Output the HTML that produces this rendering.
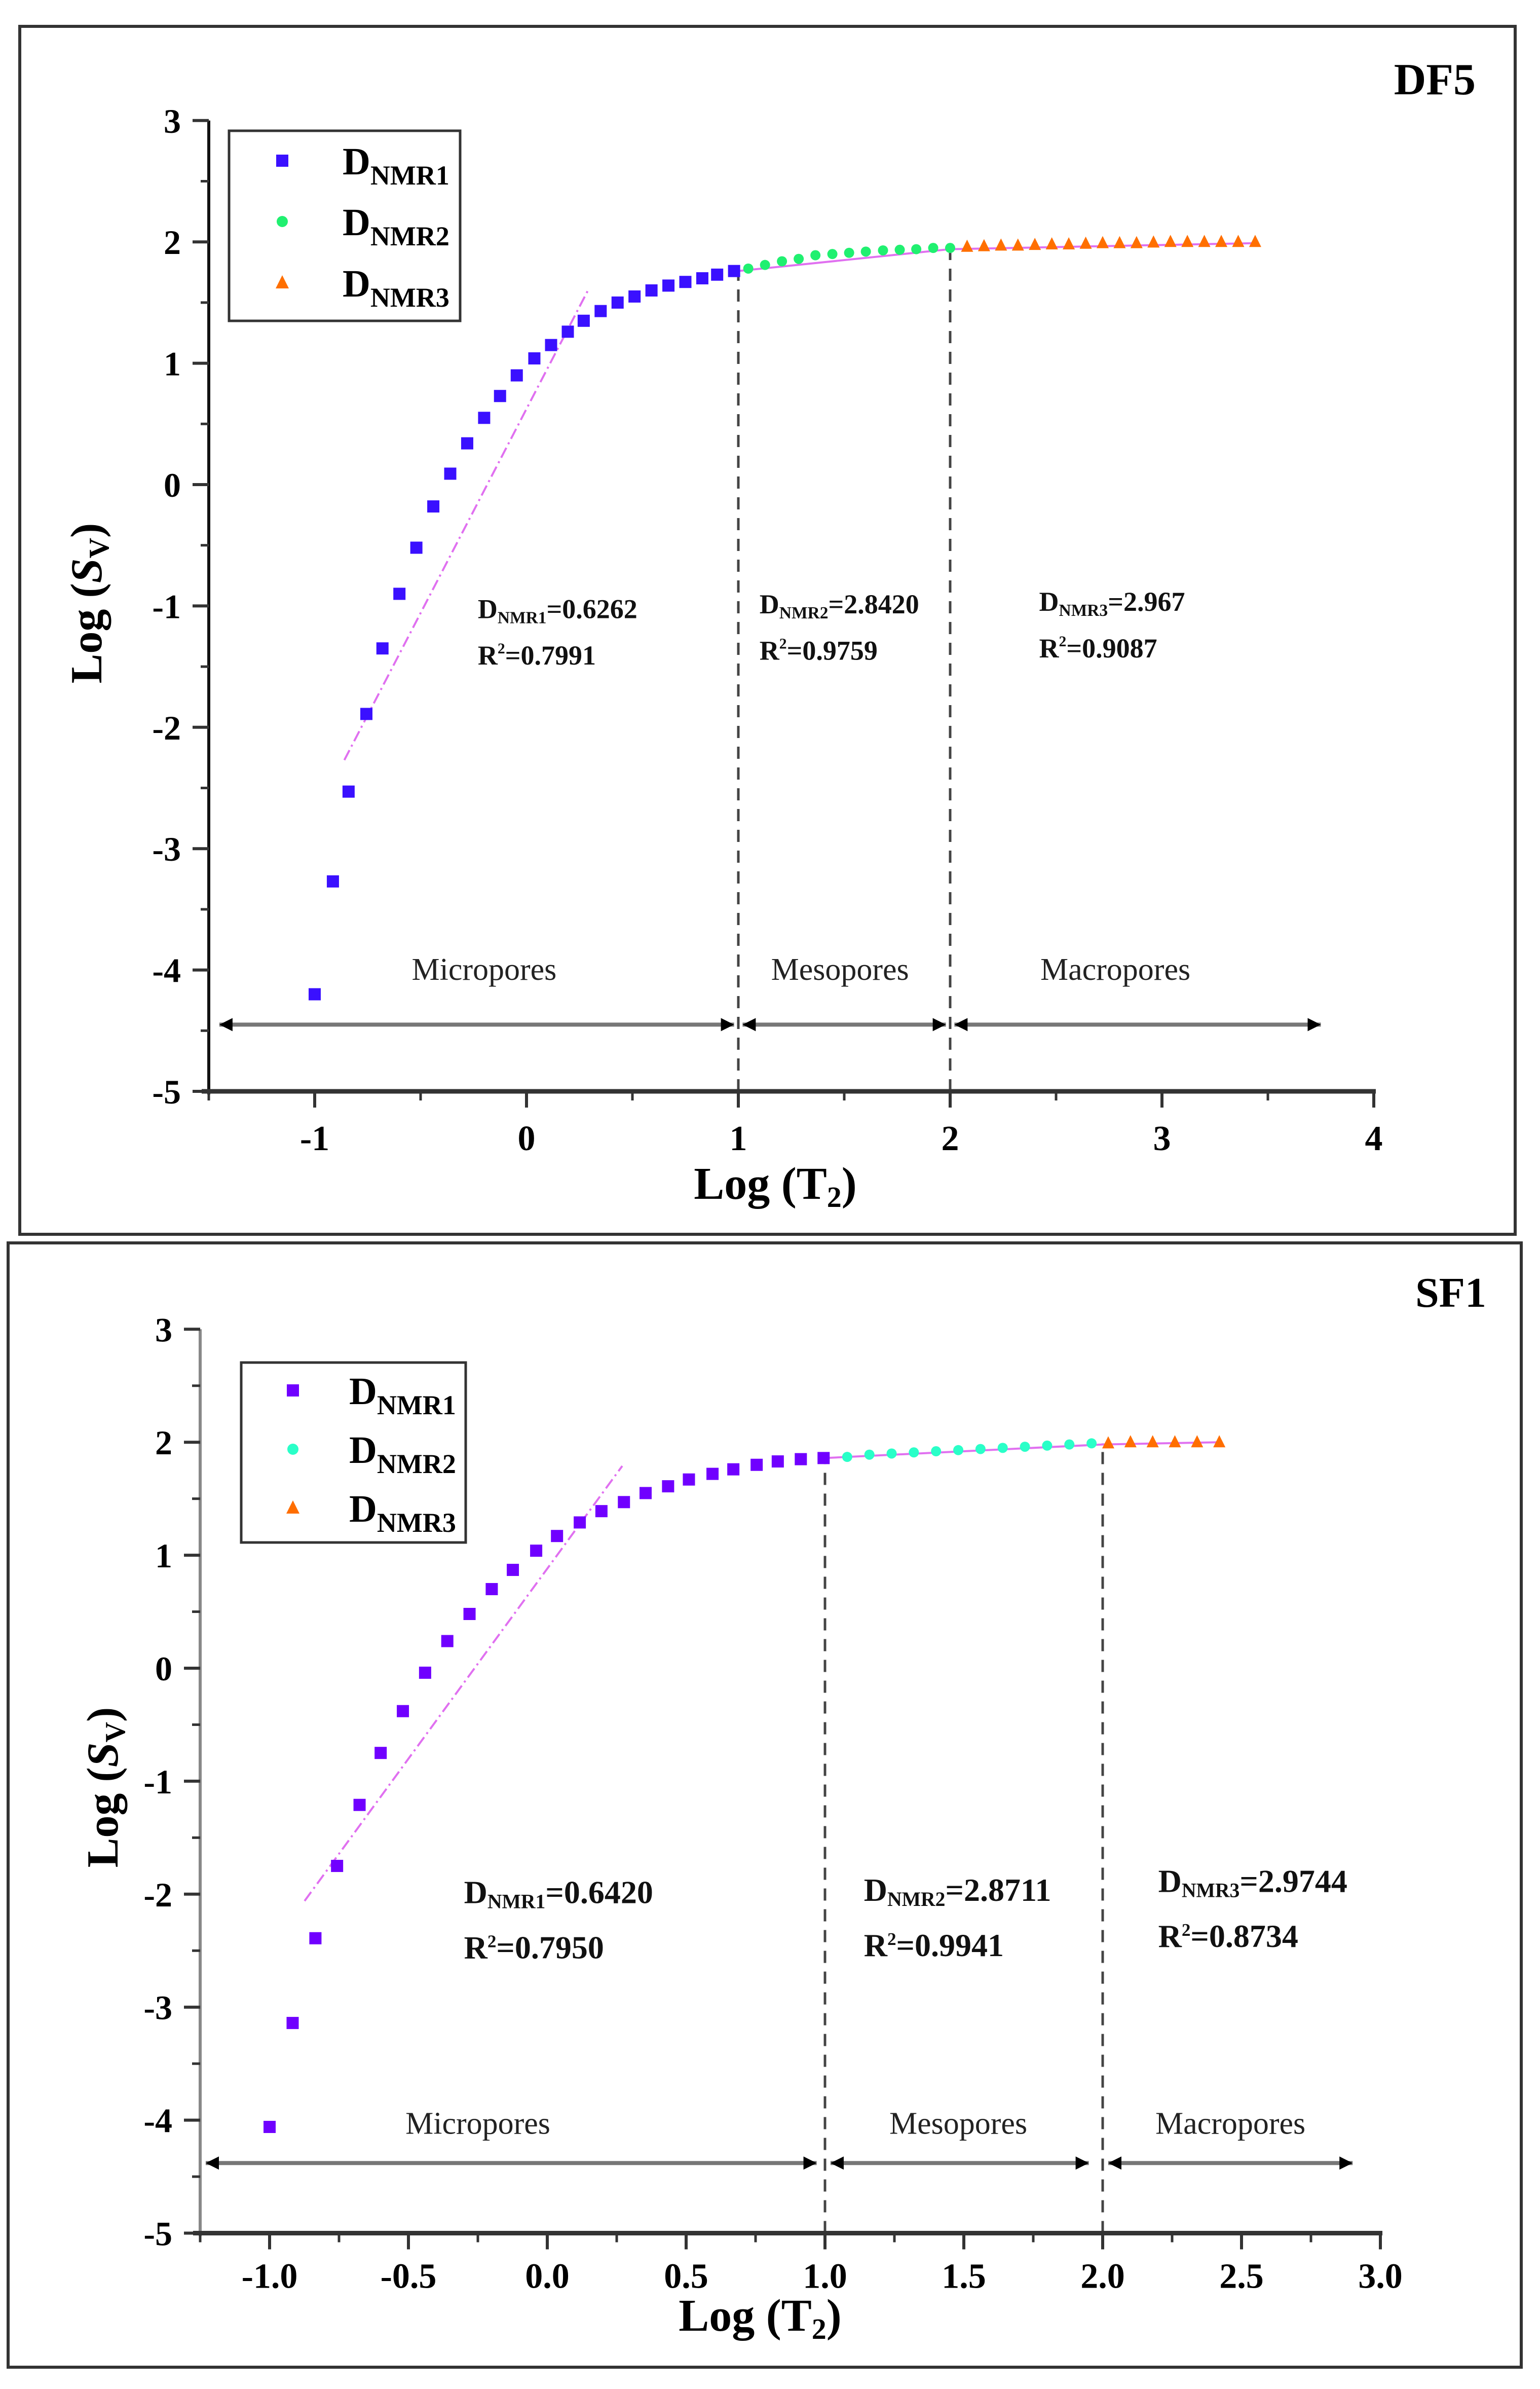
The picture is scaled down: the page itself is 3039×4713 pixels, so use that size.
<!DOCTYPE html>
<html><head><meta charset="utf-8">
<style>
html,body{margin:0;padding:0;background:#fff;}
svg{display:block;font-family:"Liberation Serif",serif;}
</style></head>
<body>
<svg id="fig" width="3039" height="4713" viewBox="0 0 3039 4713" xmlns="http://www.w3.org/2000/svg">
<rect x="0" y="0" width="3039" height="4713" fill="#fff"/>
</svg>
<script>
// ---------- DF5 data ----------
const df5_n1_x = [-1.0,-0.914,-0.84,-0.756,-0.68,-0.6,-0.52,-0.44,-0.36,-0.28,-0.2,-0.125,-0.046,0.037,0.116,0.195,0.27,0.35,0.43,0.51,0.59,0.67,0.75,0.83,0.9,0.98];
const df5_n1_y = [-4.2,-3.27,-2.53,-1.89,-1.35,-0.9,-0.52,-0.18,0.09,0.34,0.55,0.73,0.9,1.04,1.15,1.26,1.35,1.43,1.5,1.55,1.6,1.64,1.67,1.7,1.73,1.76];
const df5_n2_x = [1.047,1.126,1.206,1.285,1.364,1.444,1.523,1.602,1.683,1.762,1.84,1.92,2.0];
const df5_n2_y = [1.78,1.81,1.84,1.86,1.89,1.9,1.91,1.92,1.93,1.935,1.94,1.95,1.95];
const df5_n3_x = [2.08,2.16,2.24,2.32,2.4,2.48,2.56,2.64,2.72,2.8,2.88,2.96,3.04,3.12,3.2,3.28,3.36,3.44];
const df5_n3_y = [1.96,1.965,1.97,1.97,1.975,1.98,1.98,1.985,1.99,1.99,1.99,1.995,2.0,2.0,2.0,2.0,2.0,2.0];
const df5_fit1 = [[-0.86,-2.27],[0.29,1.6]];
const df5_fit2 = [[1.0,1.76],[2.0,1.94]];
const df5_fit3 = [[2.0,1.94],[3.45,1.99]];
const df5_xticks = [-1,0,1,2,3,4];
const df5_xlabels = ["-1","0","1","2","3","4"];
const df5_yticks = [-5,-4,-3,-2,-1,0,1,2,3];
const df5_ylabels = ["-5","-4","-3","-2","-1","0","1","2","3"];
const df5_annot = [["0.6262","0.7991","NMR1"],["2.8420","0.9759","NMR2"],["2.967","0.9087","NMR3"]];
const df5_annot_pos = [[-0.23,-1.1],[1.1,-1.06],[2.42,-1.04]];
const df5_regions = ["Micropores","Mesopores","Macropores"];
const df5_region_x = [-0.2,1.48,2.78];
const df5_arrows = [[-1.45,0.98],[1.02,1.98],[2.02,3.75]];

// ---------- SF1 data ----------
const sf1_n1_x = [-1.0,-0.917,-0.835,-0.757,-0.676,-0.6,-0.52,-0.44,-0.36,-0.28,-0.2,-0.124,-0.04,0.035,0.117,0.195,0.276,0.354,0.435,0.51,0.595,0.67,0.754,0.83,0.913,0.995];
const sf1_n1_y = [-4.06,-3.14,-2.39,-1.75,-1.21,-0.75,-0.38,-0.04,0.24,0.48,0.7,0.87,1.04,1.17,1.29,1.39,1.47,1.55,1.61,1.67,1.72,1.76,1.8,1.83,1.85,1.86];
const sf1_n2_x = [1.08,1.16,1.24,1.32,1.4,1.48,1.56,1.64,1.72,1.8,1.88,1.96];
const sf1_n2_y = [1.87,1.89,1.9,1.91,1.92,1.93,1.94,1.95,1.96,1.97,1.98,1.99];
const sf1_n3_x = [2.02,2.1,2.18,2.26,2.34,2.42];
const sf1_n3_y = [1.99,2.0,2.0,2.0,2.0,2.0];
const sf1_fit1 = [[-0.874,-2.06],[0.27,1.79]];
const sf1_fit2 = [[1.0,1.86],[2.0,1.98]];
const sf1_fit3 = [[2.0,1.98],[2.42,2.0]];
const sf1_xticks = [-1.0,-0.5,0.0,0.5,1.0,1.5,2.0,2.5,3.0];
const sf1_xlabels = ["-1.0","-0.5","0.0","0.5","1.0","1.5","2.0","2.5","3.0"];
const sf1_yticks = [-5,-4,-3,-2,-1,0,1,2,3];
const sf1_ylabels = ["-5","-4","-3","-2","-1","0","1","2","3"];
const sf1_annot = [["0.6420","0.7950","NMR1"],["2.8711","0.9941","NMR2"],["2.9744","0.8734","NMR3"]];
const sf1_annot_pos = [[-0.3,-2.08],[1.14,-2.06],[2.2,-1.98]];
const sf1_regions = ["Micropores","Mesopores","Macropores"];
const sf1_region_x = [-0.25,1.48,2.46];
const sf1_arrows = [[-1.23,0.97],[1.02,1.95],[2.02,2.9]];

const NS="http://www.w3.org/2000/svg";
const svg=document.getElementById('fig');
function mk(tag,attrs,parent){const e=document.createElementNS(NS,tag);for(const k in attrs)e.setAttribute(k,attrs[k]);(parent||svg).appendChild(e);return e;}

function drawChart(cfg){
  const g=mk('g',{});
  
  
  const X=v=>cfg.x0+v*cfg.ux, Y=v=>cfg.y0-v*cfg.uy;
  // frame
  const fr=mk('rect',{x:cfg.frame[0],y:cfg.frame[1],width:cfg.frame[2],height:cfg.frame[3],fill:'none',stroke:'#333','stroke-width':6},g);
  
  
  const xl=X(cfg.xmin), xr=X(cfg.xmax), yb=Y(-5), yt=Y(3);
  // arrows
  cfg.arrows.forEach((a,i)=>{
    const ay=Y(cfg.arrowY);
    const ln=mk('line',{x1:X(a[0]),x2:X(a[1]),y1:ay,y2:ay,stroke:'#777','stroke-width':8},g);
    
    
    const x1=X(a[0]),x2=X(a[1]);
    mk('polygon',{points:`${x1},${ay} ${x1+26},${ay-13} ${x1+26},${ay+13}`,fill:'#000'},g);
    mk('polygon',{points:`${x2},${ay} ${x2-26},${ay-13} ${x2-26},${ay+13}`,fill:'#000'},g);
  });
  cfg.regions.forEach((r,i)=>{
    const t=mk('text',{x:X(cfg.regionX[i]),y:Y(cfg.regionY),'font-size':cfg.regFs,'text-anchor':'middle',fill:'#222'},g);
    t.textContent=r;
    
    
  });
  // dashed verticals
  [[1,cfg.n1y[cfg.n1y.length-1]],[2,cfg.n2y[cfg.n2y.length-1]]].forEach((d,i)=>{
    const l=mk('line',{x1:X(d[0]),x2:X(d[0]),y1:yb,y2:Y(d[1]),stroke:'#444','stroke-width':5,'stroke-dasharray':'24 17'},g);
    
    
  });
  // axes
  const ya=mk('line',{x1:xl,x2:xl,y1:yb+6,y2:yt,stroke:cfg.yAxisColor,'stroke-width':6},g);
  
  
  const xa=mk('line',{x1:xl-14,x2:xr+4,y1:yb,y2:yb,stroke:'#333','stroke-width':9},g);
  
  
  cfg.yticks.forEach((v,i)=>{
    mk('line',{x1:xl-32,x2:xl,y1:Y(v),y2:Y(v),stroke:'#333','stroke-width':6},g);
    if(v<3) mk('line',{x1:xl-16,x2:xl,y1:Y(v+0.5),y2:Y(v+0.5),stroke:'#333','stroke-width':5},g);
    const t=mk('text',{x:xl-55,y:Y(v)+24,'font-size':68,'font-weight':'bold','text-anchor':'end'},g);
    t.textContent=cfg.ylabels[i];
    
    
  });
  const xstep=cfg.xticks[1]-cfg.xticks[0];
  cfg.xticks.forEach((v,i)=>{
    mk('line',{x1:X(v),x2:X(v),y1:yb,y2:yb+32,stroke:'#333','stroke-width':6},g);
    const t=mk('text',{x:X(v),y:yb+cfg.xlabOff,'font-size':70,'font-weight':'bold','text-anchor':'middle'},g);
    t.textContent=cfg.xlabels[i];
    
    
  });
  for(let v=cfg.xticks[0]-xstep/2; v<cfg.xmax; v+=xstep){ if(v>cfg.xmin) mk('line',{x1:X(v),x2:X(v),y1:yb,y2:yb+18,stroke:'#333','stroke-width':5},g); }
  mk('line',{x1:xl,x2:xl,y1:yb,y2:yb+18,stroke:'#333','stroke-width':5},g);
  // fits
  [cfg.fit1,cfg.fit2,cfg.fit3].forEach((f,i)=>{
    const l=mk('line',{x1:X(f[0][0]),y1:Y(f[0][1]),x2:X(f[1][0]),y2:Y(f[1][1]),stroke:'#e070f0','stroke-width':4,'stroke-dasharray':i==0?'22 8 4 8':'none'},g);
    
    
  });
  // points
  cfg.n1x.forEach((x,i)=>{
    const r=mk('rect',{x:X(x)-12,y:Y(cfg.n1y[i])-12,width:24,height:24,fill:cfg.c1},g);
    
    
  });
  cfg.n2x.forEach((x,i)=>{
    const c=mk('circle',{cx:X(x),cy:Y(cfg.n2y[i]),r:10,fill:cfg.c2},g);
    
    
  });
  cfg.n3x.forEach((x,i)=>{
    const cx=X(x),cy=Y(cfg.n3y[i]);
    const p=mk('polygon',{points:`${cx},${cy-14} ${cx-12},${cy+10} ${cx+12},${cy+10}`,fill:cfg.c3},g);
    
    
  });
  // annotations
  cfg.annot.forEach((a,i)=>{
    const px=X(cfg.annotPos[i][0]), py=Y(cfg.annotPos[i][1]);
    const t=mk('text',{x:px,y:py,'font-size':cfg.annFs,'font-weight':'bold',fill:'#111'},g);
    
    
    const s1=mk('tspan',{},t); s1.textContent='D';
    const s2=mk('tspan',{'font-size':cfg.annFs*0.62,dy:10},t); s2.textContent=a[2];
    const s3=mk('tspan',{dy:-10},t); s3.textContent='='+a[0];
    const t2=mk('text',{x:px,y:py+cfg.annFs*1.7,'font-size':cfg.annFs,'font-weight':'bold',fill:'#111'},g);
    
    
    const r1=mk('tspan',{},t2); r1.textContent='R';
    const r2=mk('tspan',{'font-size':cfg.annFs*0.55,dy:-22},t2); r2.textContent='2';
    const r3=mk('tspan',{dy:22},t2); r3.textContent='='+a[1];
  });
  // legend
  const L=cfg.legend;
  const lg=mk('g',{},g);
  
  
  mk('rect',{x:L.x,y:L.y,width:L.w,height:L.h,fill:'#fff',stroke:'#333','stroke-width':5},lg);
  ['NMR1','NMR2','NMR3'].forEach((s,i)=>{
    const my=L.rows[i], mx=L.mx;
    if(i==0) mk('rect',{x:mx-12,y:my-12,width:24,height:24,fill:cfg.c1},lg);
    else if(i==1) mk('circle',{cx:mx,cy:my,r:11,fill:cfg.c2},lg);
    else mk('polygon',{points:`${mx},${my-15} ${mx-13},${my+11} ${mx+13},${my+11}`,fill:cfg.c3},lg);
    const t=mk('text',{x:L.tx,y:my+27,'font-size':76,'font-weight':'bold'},lg);
    
    
    const a=mk('tspan',{},t); a.textContent='D';
    const b=mk('tspan',{'font-size':54,dy:20},t); b.textContent=s;
  });
  // titles
  const tt=mk('text',{x:cfg.tag[0],y:cfg.tag[1],'font-size':cfg.tag[2],'font-weight':'bold','text-anchor':'end'},g);
  tt.textContent=cfg.name.toUpperCase();
  
  
  const xt=mk('text',{x:cfg.xTitle[0],y:cfg.xTitle[1],'font-size':90,'font-weight':'bold','text-anchor':'middle'},g);
  
  
  const xa1=mk('tspan',{},xt); xa1.textContent='Log (T';
  const xa2=mk('tspan',{'font-size':58,dy:16},xt); xa2.textContent='2';
  const xa3=mk('tspan',{dy:-16},xt); xa3.textContent=')';
  const yt2=mk('text',{x:0,y:0,'font-size':88,'font-weight':'bold','text-anchor':'middle',transform:`translate(${cfg.yTitle[0]},${cfg.yTitle[1]}) rotate(-90)`},g);
  
  
  const ya1=mk('tspan',{},yt2); ya1.textContent='Log (';
  const ya2=mk('tspan',{'font-style':'italic'},yt2); ya2.textContent='S';
  const ya3=mk('tspan',{'font-size':56,dy:14},yt2); ya3.textContent='V';
  const ya4=mk('tspan',{dy:-14},yt2); ya4.textContent=')';
}

drawChart({name:'df5',x0:1039,ux:418,y0:956,uy:239.4,xmin:-1.5,xmax:4,
  frame:[39,52,2951,2383],yAxisColor:'#111',
  n1x:df5_n1_x,n1y:df5_n1_y,n2x:df5_n2_x,n2y:df5_n2_y,n3x:df5_n3_x,n3y:df5_n3_y,
  fit1:df5_fit1,fit2:df5_fit2,fit3:df5_fit3,
  c1:'#3a10ff',c2:'#20f070',c3:'#ff6f00',
  xticks:df5_xticks,xlabels:df5_xlabels,yticks:df5_yticks,ylabels:df5_ylabels,xlabOff:116,
  annot:df5_annot,annotPos:df5_annot_pos,annFs:54,
  regions:df5_regions,regionX:df5_region_x,regionY:-4.08,regFs:62,
  arrows:df5_arrows,arrowY:-4.45,
  legend:{x:452,y:258,w:456,h:375,mx:557,tx:676,rows:[317,437,558]},
  tag:[2912,186,88],xTitle:[1530,2365],yTitle:[200,1190]});

drawChart({name:'sf1',x0:1080,ux:548,y0:3291,uy:222.9,xmin:-1.25,xmax:3.0,
  frame:[16,2452,2986,2218],yAxisColor:'#888',
  n1x:sf1_n1_x,n1y:sf1_n1_y,n2x:sf1_n2_x,n2y:sf1_n2_y,n3x:sf1_n3_x,n3y:sf1_n3_y,
  fit1:sf1_fit1,fit2:sf1_fit2,fit3:sf1_fit3,
  c1:'#7000ff',c2:'#2affc8',c3:'#ff6e00',
  xticks:sf1_xticks,xlabels:sf1_xlabels,yticks:sf1_yticks,ylabels:sf1_ylabels,xlabOff:108,
  annot:sf1_annot,annotPos:sf1_annot_pos,annFs:64,
  regions:sf1_regions,regionX:sf1_region_x,regionY:-4.12,regFs:62,
  arrows:sf1_arrows,arrowY:-4.38,
  legend:{x:476,y:2688,w:443,h:355,mx:578,tx:689,rows:[2743,2859,2975]},
  tag:[2933,2578,84],xTitle:[1500,4598],yTitle:[232,3526]});
</script>
</body></html>
